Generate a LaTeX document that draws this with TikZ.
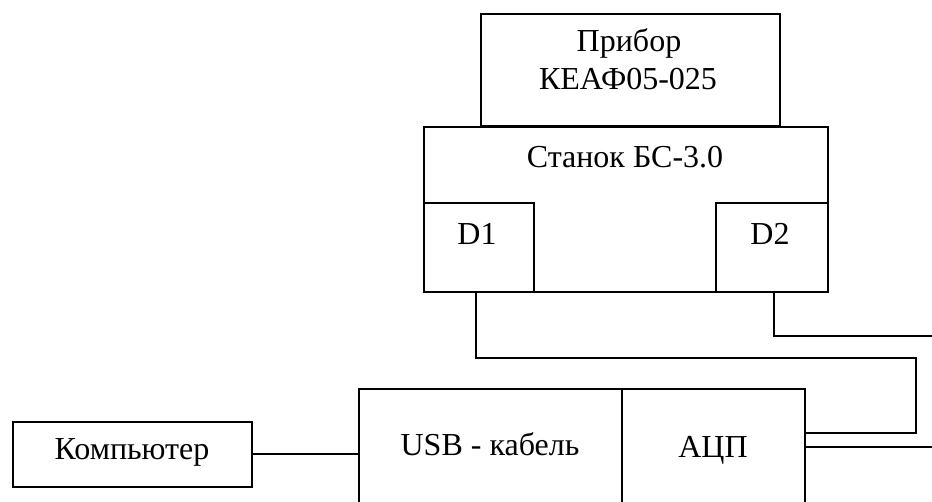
\documentclass[tikz,border=0pt]{standalone}
\usepackage{fontspec}
\setmainfont{Liberation Serif}
\begin{document}
\begin{tikzpicture}[x=1pt,y=-1pt,
  box/.style={draw, line width=1.7pt, rectangle, inner sep=0pt, anchor=north west},
  wire/.style={line width=1.7pt},
  lbl/.style={font=\fontsize{32}{37}\selectfont, inner sep=0pt, anchor=base}]
\useasboundingbox (0,0) rectangle (932,502);
\clip (0,0) rectangle (932,502);
% boxes
\node[box, minimum width=299pt, minimum height=112pt] (pribor) at (480,13) {};
\node[box, minimum width=404pt, minimum height=165pt] (stanok) at (423,126) {};
\node[box, minimum width=110pt, minimum height=89pt] (d1) at (423,202) {};
\node[box, minimum width=112pt, minimum height=89pt] (d2) at (715,202) {};
\node[box, minimum width=263pt, minimum height=140pt] (usb) at (358,388) {};
\node[box, minimum width=183pt, minimum height=140pt] (adc) at (621,388) {};
\node[box, minimum width=239pt, minimum height=65pt] (comp) at (12,421) {};
% labels
\node[lbl] (t1) at (629,52) {Прибор};
\node[lbl] (t2) at (628,90) {КЕАФ05-025};
\node[lbl] (t3) at (625,168) {Станок БС-3.0};
\node[lbl] (t4) at (477,245) {D1};
\node[lbl] (t5) at (770,245) {D2};
\node[lbl] (t6) at (132,460) {Компьютер};
\node[lbl] (t7) at (490,456) {USB - кабель};
\node[lbl] (t8) at (713,457) {АЦП};
% wires
\coordinate (c1) at (916,358);
\coordinate (c2) at (916,433);
\coordinate (e2) at (932,336);
\coordinate (e3) at (932,447);
\draw[wire] ([xshift=-3pt]d1.south) |- (c1) -- (c2) -- (c2 -| adc.east);
\draw[wire] ([xshift=2pt]d2.south) |- (e2);
\draw[wire] (e3 -| adc.east) -- (e3);
\draw[wire] (comp.east) -- (comp.east -| usb.west);
\end{tikzpicture}
\end{document}
